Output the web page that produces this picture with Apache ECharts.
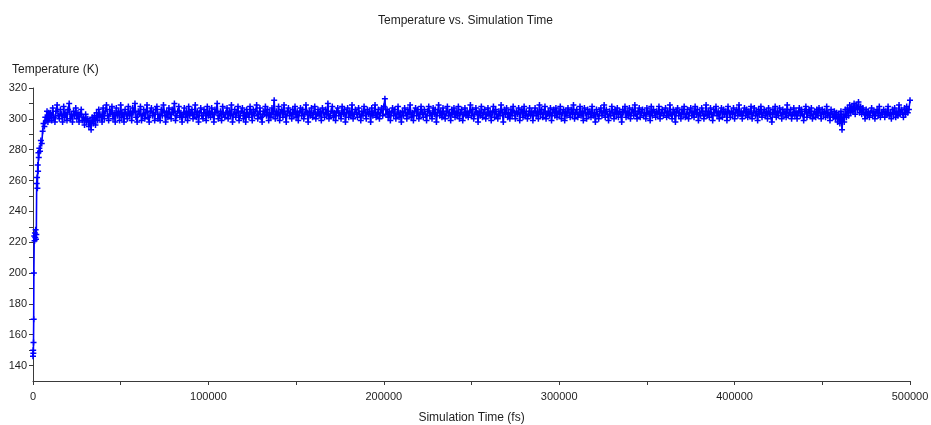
<!DOCTYPE html>
<html><head><meta charset="utf-8">
<script src="https://cdn.jsdelivr.net/npm/echarts@6/dist/echarts.min.js"></script>
<style>html,body{margin:0;padding:0;background:#fff}#c{width:931px;height:425px}</style>
</head><body><div id="c"></div>
<script>
const titleText = 'Temperature vs. Simulation Time';
const xName = 'Simulation Time (fs)';
const yName = 'Temperature (K)';
const yTickLabels = [140,160,180,200,220,240,260,280,300,320];
const yMinorTicks = [140,150,160,170,180,190,200,210,220,230,240,250,260,270,280,290,300,310,320];

// heating phase (fs, K)
const warmupTimes = [0,100,200,300,400,500,700,900,1100,1300,1500,1700,1900,2100,2300,2500,2700,2900,3100,3300,3600,4000,4500,5000,5500,6000,6500,7000,7500,8000,8500,9000,9500];
const warmupTemps = [146,150,148,155,170,200,224,221,226,223,228,222,225,258,262,255,270,266,278,275,281,279,286,284,292,297,295,301,299,305,298,304,300];

// production phase: sampled every 625 fs from 10000 fs
const prodStart = 10000;
const prodStep = 625;
const prodTemps = [
304,299,307,301,298,305,309,302,300,306,303,298,308,301,304,299,306,310,300,303,
298,305,302,307,300,304,298,303,306,299,301,296,303,298,300,295,299,293,301,297,
302,296,304,299,306,301,303,298,307,300,305,309,302,299,306,303,308,300,304,298,
307,302,305,299,309,301,304,298,306,303,300,308,302,305,299,307,304,310,301,298,
305,303,308,299,302,306,300,304,309,301,298,305,307,302,304,299,306,308,300,303,
299,306,302,309,304,298,305,301,307,303,300,306,304,310,299,302,305,308,301,304,
298,303,307,301,305,299,308,302,304,306,300,303,309,301,305,298,304,307,302,300,
306,304,299,308,302,305,301,307,303,298,306,304,310,300,302,305,299,308,303,301,
304,307,300,305,302,309,298,303,306,301,304,308,299,302,305,307,300,304,298,306,
303,301,308,304,299,306,302,305,309,300,303,307,301,298,305,303,308,302,306,299,
304,301,307,303,312,300,305,302,308,299,304,306,301,309,303,298,305,307,302,304,
300,306,303,308,301,305,299,304,307,302,306,300,303,309,304,298,305,302,307,301,
304,308,300,303,306,302,305,299,307,304,301,306,303,310,300,302,305,308,301,304,
299,305,307,302,304,300,308,303,306,298,304,307,301,305,302,309,300,303,306,304,
301,307,303,299,305,302,308,304,300,306,303,305,298,307,302,304,309,301,303,306,
300,304,307,302,308,313,303,306,301,305,299,304,307,302,306,300,303,308,301,304,
298,305,302,307,304,300,306,303,309,301,304,299,305,307,302,306,300,303,308,304,
301,306,303,299,305,308,302,304,300,307,303,306,298,304,309,302,305,301,307,303,
300,305,308,302,304,299,306,303,307,301,305,302,308,300,304,306,299,303,307,302,
305,301,304,309,302,306,300,303,307,304,298,305,302,308,301,304,306,300,303,307,
302,305,299,304,308,301,306,303,300,305,302,309,304,298,306,303,307,301,304,300,
306,302,308,304,300,305,303,307,299,304,306,301,308,302,305,300,303,307,302,305,
299,304,307,302,305,300,309,303,306,301,304,308,300,303,305,302,307,299,304,306,
302,307,301,305,303,308,300,304,306,299,305,302,307,304,301,306,303,309,300,304,
306,301,303,308,302,305,299,307,304,300,306,303,305,301,308,302,304,298,306,303,
300,305,307,302,304,309,301,306,303,299,305,302,308,304,300,306,303,307,301,305,
303,298,306,304,308,301,305,302,307,300,304,306,302,309,303,300,305,307,301,304,
306,302,304,300,307,303,305,299,308,302,306,304,301,305,303,308,300,304,306,302,
304,307,301,305,302,309,303,300,306,304,298,305,307,302,304,300,306,303,308,301,
303,306,300,304,307,302,305,301,308,303,306,299,304,302,307,305,300,303,309,302,
305,301,307,303,299,306,304,308,302,305,300,304,307,301,306,303,305,299,308,304,
301,305,303,307,300,304,306,302,309,303,305,300,304,307,302,306,301,305,303,308,
300,304,307,302,305,299,306,303,308,301,304,306,302,305,300,307,303,304,298,306,
303,308,301,305,302,307,304,300,306,303,305,301,309,302,304,306,300,303,307,302,
305,300,304,307,302,306,303,299,305,308,301,304,306,302,307,300,303,305,301,306,
302,307,304,300,306,303,305,301,308,302,304,299,306,303,301,305,300,304,298,303,
297,305,293,303,298,306,301,307,302,309,304,308,305,310,303,309,306,311,304,308,
303,307,304,300,306,302,305,301,304,307,302,305,300,304,306,302,308,301,304,303,
306,301,305,303,308,302,304,300,306,303,307,301,305,302,309,303,306,304,301,307,
303,308,304,306,312
];

const points = [];
warmupTimes.forEach((t, i) => points.push([t, warmupTemps[i]]));
prodTemps.forEach((v, i) => points.push([prodStart + i * prodStep, v]));

const font = 'Liberation Sans';
const txt = '#1e1e1e';
const axisCol = '#3a3a3a';

const chart = echarts.init(document.getElementById('c'), null, {renderer: 'canvas'});
chart.setOption({
  animation: false,
  backgroundColor: '#fff',
  title: {
    text: titleText, left: 'center', top: 10,
    textStyle: {fontFamily: font, fontSize: 12, fontWeight: 'normal', color: txt}
  },
  grid: {left: 33, right: 21, top: 88, bottom: 44, containLabel: false, outerBoundsMode: 'none'},
  xAxis: {
    type: 'value', min: 0, max: 500000, interval: 50000,
    name: xName, nameLocation: 'middle', nameGap: 31,
    nameTextStyle: {fontFamily: font, fontSize: 12, color: txt},
    axisLine: {show: true, lineStyle: {color: axisCol, width: 1}},
    axisTick: {show: true, length: 4, lineStyle: {color: axisCol}},
    axisLabel: {
      fontFamily: font, fontSize: 11, color: txt, margin: 10,
      formatter: v => (v % 100000 === 0 ? String(v) : '')
    },
    splitLine: {show: false}
  },
  yAxis: {
    type: 'value', min: 130, max: 320,
    name: yName, nameLocation: 'end', nameGap: 12,
    nameTextStyle: {fontFamily: font, fontSize: 12, color: txt, align: 'left', padding: [0, 0, 0, -21]},
    axisLine: {show: true, lineStyle: {color: axisCol, width: 1}},
    axisTick: {show: true, length: 4, customValues: yMinorTicks, lineStyle: {color: axisCol}},
    axisLabel: {fontFamily: font, fontSize: 11, color: txt, margin: 6, customValues: yTickLabels},
    splitLine: {show: false}
  },
  series: [{
    type: 'line',
    data: points,
    showAllSymbol: true,
    symbol: 'path://M0,4H8M4,0V8',
    symbolSize: 6,
    lineStyle: {color: '#0000ff', width: 1.6},
    itemStyle: {color: '#0000ff', borderColor: '#0000ff', borderWidth: 1.5},
    emphasis: {disabled: true},
    silent: true
  }]
});
</script>
</body></html>
